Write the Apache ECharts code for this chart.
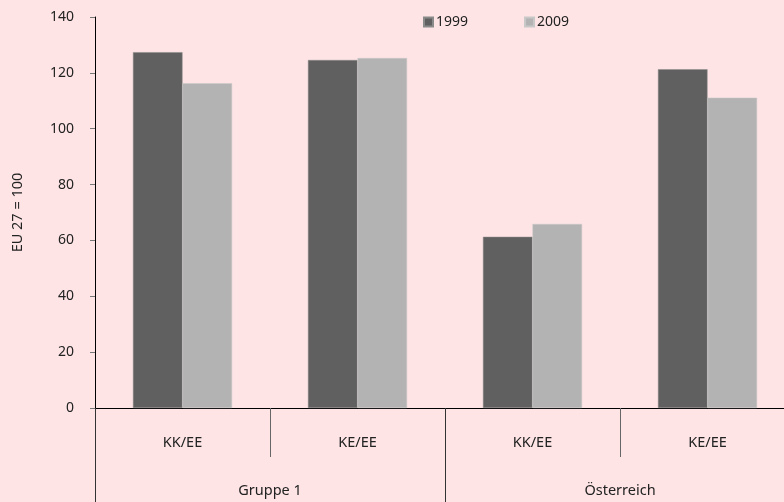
<!DOCTYPE html>
<html>
<head>
<meta charset="utf-8">
<script src="https://cdn.jsdelivr.net/npm/echarts@6/dist/echarts.min.js"></script>
<style>
  html, body { margin: 0; padding: 0; background: #fee4e5; overflow: hidden; }
  body { width: 784px; height: 502px; }
  #chart { width: 800px; height: 502px; }
</style>
</head>
<body>
<div id="chart"></div>
<script>
// Index values (EU 27 = 100) per indicator, grouped by region
const categories = ['KK/EE', 'KE/EE', 'KK/EE', 'KE/EE'];
const groups = ['Gruppe 1', 'Österreich'];
const series1999 = [127.4, 124.6, 61.3, 121.3];
const series2009 = [116.3, 125.3, 65.9, 111.1];
const yTicks = { min: 0, max: 140, interval: 20 };

const FONT = 'Noto Sans';
const chart = echarts.init(document.getElementById('chart'));

chart.setOption({
  backgroundColor: '#fee4e5',
  animation: false,
  textStyle: { fontFamily: FONT, color: '#222' },
  legend: {
    top: 15,
    left: 423,
    padding: 0,
    itemWidth: 9,
    itemHeight: 9,
    itemGap: 56,
    icon: 'rect',
    textStyle: { fontFamily: FONT, fontSize: 14, color: '#222', padding: [0, 0, 0, -2] },
    data: ['1999', '2009']
  },
  grid: { left: 95, top: 17, width: 700, height: 391 },
  xAxis: [
    {
      type: 'category',
      data: categories,
      position: 'bottom',
      axisLine: { show: true, lineStyle: { color: '#000', width: 1 } },
      axisTick: { show: true, length: 49, lineStyle: { color: '#666' } },
      axisLabel: { margin: 27, fontSize: 14.5, color: '#222', fontFamily: FONT },
      splitLine: { show: false }
    },
    {
      type: 'category',
      data: groups,
      position: 'bottom',
      axisLine: { show: false },
      axisTick: { show: true, length: 94, lineStyle: { color: '#333' } },
      axisLabel: { margin: 75, fontSize: 14.5, color: '#222', fontFamily: FONT },
      splitLine: { show: false }
    }
  ],
  yAxis: {
    type: 'value',
    min: yTicks.min,
    max: yTicks.max,
    interval: yTicks.interval,
    name: 'EU 27 = 100',
    nameLocation: 'middle',
    nameGap: 70,
    nameRotate: 90,
    nameTextStyle: { fontSize: 14.5, color: '#222', fontFamily: FONT },
    axisLine: { show: true, lineStyle: { color: '#000', width: 1 } },
    axisTick: { show: true, length: 5, lineStyle: { color: '#777' } },
    axisLabel: { margin: 21, fontSize: 14, color: '#222', fontFamily: FONT },
    splitLine: { show: false }
  },
  series: [
    {
      name: '1999',
      type: 'bar',
      xAxisIndex: 0,
      data: series1999,
      barWidth: '28.3%',
      barGap: '0%',
      itemStyle: { color: '#606060', borderColor: '#8a8a8a', borderWidth: 0.5 }
    },
    {
      name: '2009',
      type: 'bar',
      xAxisIndex: 0,
      data: series2009,
      barWidth: '28.3%',
      barGap: '0%',
      itemStyle: { color: '#b3b3b3', borderColor: '#c8c8c8', borderWidth: 0.5 }
    }
  ]
});
</script>
</body>
</html>
